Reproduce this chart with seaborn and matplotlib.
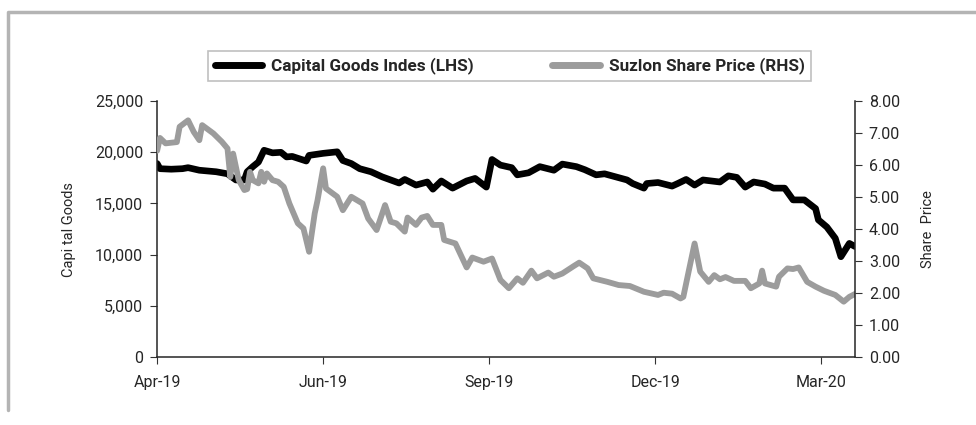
import numpy as np
import pandas as pd
import seaborn as sns
import matplotlib.pyplot as plt
from matplotlib.lines import Line2D
from matplotlib.ticker import FuncFormatter

# trading-day index (0 = start of Apr-19) and values
cg_day = [0, 1, 5, 9, 11, 15, 21, 25, 28, 31, 32, 34, 36, 38, 41, 44, 46, 48, 53, 54,
          59, 64, 66, 69, 72, 76, 80, 83, 86, 88, 92, 96, 98, 101, 105, 110, 113, 117,
          119, 122, 126, 128, 132, 136, 141, 144, 149, 152, 156, 159, 163, 167, 169,
          173, 174, 178, 183, 185, 188, 191, 194, 200, 203, 206, 209, 212, 216, 219,
          223, 226, 230, 234, 235, 238, 241, 243, 246, 248]
cg_val = [18900, 18400, 18350, 18400, 18500, 18250, 18100, 17900, 17300, 17300, 18100,
          18600, 19050, 20200, 19950, 20000, 19550, 19600, 19150, 19700, 19900, 20050,
          19200, 18900, 18400, 18100, 17600, 17300, 17000, 17350, 16800, 17100, 16400,
          17200, 16500, 17200, 17450, 16600, 19300, 18750, 18500, 17800, 18000, 18600,
          18250, 18850, 18600, 18300, 17800, 17900, 17600, 17300, 16950, 16500, 16950,
          17050, 16700, 16950, 17350, 16800, 17300, 17100, 17700, 17550, 16600, 17100,
          16900, 16500, 16500, 15350, 15350, 14500, 13400, 12700, 11600, 9800, 11100,
          10800]

sz_day = [0, 1, 3, 7, 8, 11, 13, 15, 16, 20, 23, 25, 26, 27, 29, 31, 32, 33, 34, 36,
          37, 38, 39, 41, 43, 45, 47, 50, 52, 54, 56, 57, 59, 60, 64, 66, 69, 73, 75,
          78, 81, 83, 85, 88, 89, 92, 94, 96, 98, 101, 102, 106, 110, 112, 116, 119,
          122, 125, 128, 130, 133, 135, 139, 141, 144, 148, 150, 153, 155, 160, 164,
          168, 173, 178, 180, 183, 186, 187, 189, 191, 193, 196, 198, 200, 202, 205,
          209, 211, 214, 215, 216, 220, 221, 224, 226, 228, 231, 234, 237, 241, 244,
          246, 248]
sz_val = [6.45, 6.85, 6.68, 6.72, 7.20, 7.40, 7.04, 6.78, 7.25, 6.99, 6.73, 6.52, 5.63,
          6.36, 5.53, 5.22, 5.25, 5.79, 5.53, 5.43, 5.79, 5.48, 5.74, 5.53, 5.48, 5.32,
          4.80, 4.18, 4.02, 3.29, 4.49, 4.90, 5.90, 5.27, 5.01, 4.59, 5.01, 4.80, 4.33,
          3.97, 4.75, 4.23, 4.18, 3.92, 4.36, 4.13, 4.36, 4.41, 4.13, 4.13, 3.66, 3.55,
          2.80, 3.11, 2.98, 3.08, 2.41, 2.15, 2.46, 2.32, 2.70, 2.46, 2.64, 2.51, 2.61,
          2.84, 2.95, 2.77, 2.46, 2.35, 2.25, 2.22, 2.04, 1.94, 2.01, 1.98, 1.83, 1.88,
          2.72, 3.55, 2.67, 2.35, 2.56, 2.43, 2.50, 2.38, 2.38, 2.15, 2.30, 2.70, 2.30,
          2.20, 2.51, 2.77, 2.75, 2.80, 2.35, 2.20, 2.07, 1.94, 1.73, 1.88, 1.97]

tick_pos = [0, 59, 118, 177, 236]
tick_lab = ["Apr-19", "Jun-19", "Sep-19", "Dec-19", "Mar-20"]

cg = pd.DataFrame({"day": cg_day, "val": cg_val})
sz = pd.DataFrame({"day": sz_day, "val": sz_val})

sns.set_style("ticks")
plt.rcParams["font.family"] = ["Roboto", "DejaVu Sans"]

BLACK = "#000000"
GREY = "#9c9c9c"

fig = plt.figure(figsize=(9.76, 4.25), dpi=100)
ax = fig.add_axes([0.161, 0.16, 0.715, 0.602])
ax2 = ax.twinx()

sns.lineplot(data=cg, x="day", y="val", ax=ax, color=BLACK, lw=4.8,
             solid_capstyle="round", solid_joinstyle="round")
sns.lineplot(data=sz, x="day", y="val", ax=ax2, color=GREY, lw=4.2,
             solid_capstyle="round", solid_joinstyle="round")

ax.set_xlim(0, 248)
ax.set_ylim(0, 25000)
ax2.set_ylim(0, 8)
ax.set_yticks(np.arange(0, 25001, 5000))
ax2.set_yticks(np.arange(0, 8.01, 1))
ax.yaxis.set_major_formatter(FuncFormatter(lambda v, p: f"{v:,.0f}"))
ax2.yaxis.set_major_formatter(FuncFormatter(lambda v, p: f"{v:.2f}"))
ax.set_xticks(tick_pos)
ax.set_xticklabels(tick_lab)

ax.set_xlabel("")
ax.set_ylabel("Capi tal Goods", fontsize=10.5, labelpad=14)
ax2.set_ylabel("Share  Price", fontsize=10.5, labelpad=15)

for a in (ax, ax2):
    a.tick_params(labelsize=11.5, length=5, width=0.8, color="#333333", pad=5)
    a.spines["top"].set_visible(False)
ax.spines["right"].set_visible(False)
ax2.spines["left"].set_visible(False)
ax2.spines["bottom"].set_visible(False)
ax2.spines["right"].set_linewidth(1.1)
ax.spines["left"].set_linewidth(1.1)
ax.spines["bottom"].set_linewidth(1.1)
ax.tick_params(axis="x", pad=8)

handles = [Line2D([], [], color=BLACK, lw=5, solid_capstyle="round"),
           Line2D([], [], color=GREY, lw=5, solid_capstyle="round")]
leg = fig.legend(handles, ["Capital Goods Indes (LHS)", "Suzlon Share Price (RHS)"],
                 loc="center", bbox_to_anchor=(0.522, 0.845), ncol=2, frameon=True,
                 fancybox=False, edgecolor="#b0b0b0", handlelength=2.8,
                 columnspacing=4.6, borderpad=0.4, handletextpad=0.5,
                 borderaxespad=0, prop={"weight": "bold", "size": 12.3})
leg.get_frame().set_linewidth(1.2)

# outer grey frame (left and top edges)
fig.add_artist(Line2D([0.008, 0.008, 1.0], [0.035, 0.971, 0.971],
                      transform=fig.transFigure, color="#b4b4b4", lw=2.5))

fig.savefig("out.png", dpi=100)
